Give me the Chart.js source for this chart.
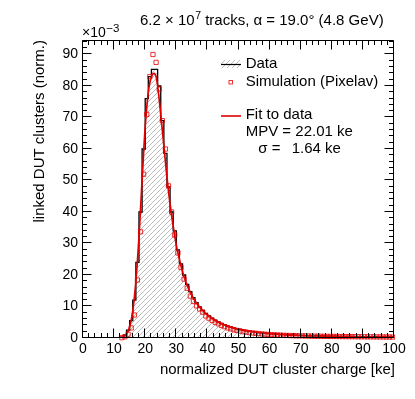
<!DOCTYPE html>
<html><head><meta charset="utf-8">
<script src="https://cdn.jsdelivr.net/npm/chart.js@4/dist/chart.umd.min.js"></script>
<style>html,body{margin:0;padding:0;background:#fff}#wrap{width:415px;height:399px}canvas{display:block}</style>
</head><body>
<div id="wrap"><canvas id="c" width="415" height="399"></canvas></div>
<script>
// ---- data (values in units of 1e-3) ----
const binStart = 0, binWidth = 1, nBins = 100;
const dataValues = [
 0,0,0,0,0,0,0,0,0,0,
 0,0.05,0.3,1.0,2.5,5.5,12,24,40,60,
 76,83,85.3,85.3,80,69,58.6,48,40,34,
 28,23.5,20,17,14.7,12.8,11.2,9.9,8.8,7.8,
 7.0,6.3,5.7,5.1,4.6,4.2,3.8,3.5,3.2,2.9,
 2.7,2.5,2.3,2.1,2.0,1.85,1.7,1.6,1.5,1.4,
 1.3,1.25,1.2,1.1,1.05,1.0,0.95,0.9,0.88,0.85,
 0.8,0.78,0.75,0.72,0.7,0.68,0.65,0.62,0.6,0.58,
 0.56,0.55,0.53,0.52,0.5,0.48,0.47,0.46,0.45,0.44,
 0.43,0.42,0.41,0.4,0.39,0.38,0.37,0.36,0.35,0.34];
const simValues = [
 null,null,null,null,null,null,null,null,null,null,
 null,null,0.1,0.4,1.2,3.2,7.3,18.4,33.7,52,
 71,83,90,87.5,79,69,60,48.3,40,32.7,
 27,22.4,18.7,15.8,13.3,11.6,10.2,9.2,8.2,7.0,
 6.3,5.6,5.0,4.5,4.0,3.6,3.2,2.9,2.6,2.4,
 2.2,2.0,1.85,1.7,1.6,1.5,1.4,1.3,1.2,1.1,
 1.05,1.0,0.95,0.9,0.85,0.8,0.78,0.75,0.72,0.7,
 0.68,0.65,0.63,0.6,0.58,0.56,0.55,0.53,0.52,0.5,
 0.49,0.48,0.47,0.46,0.45,0.44,0.43,0.42,0.41,0.4,
 0.39,0.38,0.37,0.36,0.35,0.34,0.33,0.32,0.31,0.3];
const fitX = [11,12,13,14,15,16,17,18,19,20,21,22,22.8,23.5,24,25,26,27,28,29,30,31,32,33,34,35,36,37,38,39,40,42,44,46,48,50,55,60,65,70,75,80,85,90,95,100];
const fitY = [0,0.1,0.4,1.2,3.5,8.5,18,32,50,67,78,83,84,83,80,71,61,51,42.5,35.5,29.5,25,21,18,15.5,13.5,11.8,10.4,9.2,8.2,7.3,5.9,4.8,4.0,3.3,2.8,1.9,1.4,1.05,0.8,0.65,0.52,0.43,0.36,0.31,0.27];
const xTickLabels = ['0','10','20','30','40','50','60','70','80','90','100'];
const yTickLabels = ['0','10','20','30','40','50','60','70','80','90'];
const xMin = 0, xMax = 100, yMin = 0, yMax = 94.6;

// ---- build library data ----
const histPts = [];
for (let i = 0; i < nBins; i++) histPts.push({x: binStart + i*binWidth, y: dataValues[i]});
histPts.push({x: binStart + nBins*binWidth, y: dataValues[nBins-1]});
const simPts = [];
for (let i = 0; i < nBins; i++) if (simValues[i] !== null) simPts.push({x: binStart + (i+0.5)*binWidth, y: simValues[i]});
const fitPts = fitX.map((x,i)=>({x, y: fitY[i]}));

function hatch() {
  const s = 5, c = document.createElement('canvas');
  c.width = s; c.height = s;
  const g = c.getContext('2d');
  g.strokeStyle = '#b4b4b4'; g.lineWidth = 0.9;
  g.beginPath();
  g.moveTo(-1, s+1); g.lineTo(s+1, -1);
  g.moveTo(-1, 1); g.lineTo(1, -1);
  g.moveTo(s-1, s+1); g.lineTo(s+1, s-1);
  g.stroke();
  return document.getElementById('c').getContext('2d').createPattern(c, 'repeat');
}
const hatchPattern = hatch();
const RED = '#e00000';
const FONT = '"Liberation Sans", Arial, Helvetica, sans-serif';

const rootPlugin = {
  id: 'rootAxes',
  afterDraw(chart) {
    const {ctx, chartArea: a, scales: {x, y}} = chart;
    ctx.save();
    ctx.strokeStyle = '#000'; ctx.lineWidth = 1;
    const L = Math.round(a.left) - 0.5, R = Math.round(a.right) - 0.5, T = Math.round(a.top) + 0.5, B = Math.round(a.bottom) - 0.5;
    ctx.beginPath();
    ctx.rect(L, T, R - L, B - T);
    for (let v = xMin; v <= xMax + 1e-9; v += 2) {
      const p = Math.round(x.getPixelForValue(v)) - 0.5;
      const len = (Math.round(v) % 10 === 0) ? 9 : 4.5;
      ctx.moveTo(p, B); ctx.lineTo(p, B - len);
      ctx.moveTo(p, T); ctx.lineTo(p, T + len);
    }
    for (let v = yMin; v <= yMax; v += 2) {
      const p = Math.round(y.getPixelForValue(v)) - 0.5;
      const len = (Math.round(v) % 10 === 0) ? 9 : 4.5;
      ctx.moveTo(L, p); ctx.lineTo(L + len, p);
      ctx.moveTo(R, p); ctx.lineTo(R - len, p);
    }
    ctx.stroke();

    ctx.fillStyle = '#000';
    ctx.textBaseline = 'alphabetic';
    // title with superscript
    let tx = 140;
    ctx.font = '15px ' + FONT; ctx.textAlign = 'left';
    let s1 = '6.2 \u00d7 10'; ctx.fillText(s1, tx, 25); tx += ctx.measureText(s1).width;
    ctx.font = '10.5px ' + FONT; ctx.fillText('7', tx + 0.5, 19); tx += ctx.measureText('7').width + 0.5;
    ctx.font = '15px ' + FONT; ctx.fillText(' tracks, \u03b1 = 19.0\u00b0 (4.8 GeV)', tx, 25);
    // exponent
    ctx.font = '14px ' + FONT;
    ctx.fillText('\u00d710', 82, 37);
    let ex = 82 + ctx.measureText('\u00d710').width;
    ctx.font = '11.5px ' + FONT; ctx.fillText('\u22123', ex + 0.5, 32);
    // axis titles
    ctx.font = '15px ' + FONT;
    ctx.textAlign = 'right';
    ctx.fillText('normalized DUT cluster charge [ke]', 395, 373.5);
    ctx.save(); ctx.translate(43.5, 40); ctx.rotate(-Math.PI/2);
    ctx.fillText('linked DUT clusters (norm.)', 0, 0);
    ctx.restore();
    // legend
    ctx.fillStyle = hatchPattern; ctx.fillRect(221, 60, 20, 8);
    ctx.strokeStyle = '#000'; ctx.lineWidth = 1.2;
    ctx.beginPath(); ctx.moveTo(221, 64.5); ctx.lineTo(241, 64.5); ctx.stroke();
    ctx.strokeStyle = 'rgba(230,0,0,0.8)'; ctx.lineWidth = 1;
    ctx.strokeRect(229, 80.5, 3.5, 3.5);
    ctx.strokeStyle = RED; ctx.lineWidth = 1.6;
    ctx.beginPath(); ctx.moveTo(221, 116); ctx.lineTo(241, 116); ctx.stroke();
    ctx.fillStyle = '#000'; ctx.textAlign = 'left';
    ctx.font = '15px ' + FONT;
    ctx.fillText('Data', 245.7, 68.3);
    ctx.fillText('Simulation (Pixelav)', 245.7, 85.7);
    ctx.fillText('Fit to data', 245.7, 119.3);
    ctx.fillText('MPV = 22.01 ke', 245.7, 136);
    ctx.fillText('\u03c3', 258.3, 152.7);
    ctx.fillText('=', 271.7, 152.7);
    ctx.fillText('1.64 ke', 291.7, 152.7);
    ctx.restore();
  }
};

new Chart(document.getElementById('c'), {
  type: 'line',
  data: { datasets: [
    { label: 'Simulation (Pixelav)', data: simPts, showLine: false, pointStyle: 'rect', pointRadius: 3,
      pointBorderColor: 'rgba(230,0,0,0.8)', pointBackgroundColor: 'rgba(0,0,0,0)', pointBorderWidth: 1,
      pointHoverRadius: 3, order: 1, clip: 6 },
    { label: 'Fit to data', data: fitPts, borderColor: RED, borderWidth: 1.7, pointRadius: 0,
      cubicInterpolationMode: 'monotone', fill: false, order: 2 },
    { label: 'Data', data: histPts, stepped: 'before', borderColor: '#000', borderWidth: 1.3,
      pointRadius: 0, fill: 'origin', backgroundColor: hatchPattern, order: 3 }
  ]},
  options: {
    responsive: false, animation: false, devicePixelRatio: 1,
    layout: { padding: { left: 0, right: 21, top: 40, bottom: 0 } },
    plugins: { legend: { display: false }, tooltip: { enabled: false }, title: { display: false } },
    scales: {
      x: { type: 'linear', min: xMin, max: xMax,
        grid: { display: false, drawTicks: false }, border: { display: false },
        ticks: { stepSize: 10, includeBounds: false, padding: 3, color: '#000', maxRotation: 0, autoSkip: false,
          font: { family: FONT, size: 14 },
          callback: (v) => xTickLabels[Math.round(v/10)] ?? '' },
        afterFit: (s) => { s.height = 61; } },
      y: { type: 'linear', min: yMin, max: yMax,
        grid: { display: false, drawTicks: false }, border: { display: false },
        ticks: { stepSize: 10, includeBounds: false, padding: 5, color: '#000', autoSkip: false,
          font: { family: FONT, size: 14 },
          callback: (v) => yTickLabels[Math.round(v/10)] ?? '' },
        afterFit: (s) => { s.width = 83; } }
    }
  },
  plugins: [rootPlugin]
});
</script>
</body></html>
